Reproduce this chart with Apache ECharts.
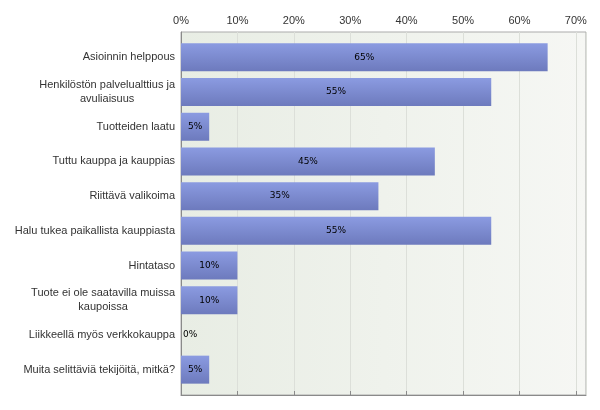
<!DOCTYPE html>
<html>
<head>
<meta charset="utf-8">
<script src="https://cdn.jsdelivr.net/npm/echarts@6/dist/echarts.min.js"></script>
<style>
  html, body { margin: 0; padding: 0; background: #fff; }
  #chart { width: 600px; height: 410px; }
</style>
</head>
<body>
<div id="chart"></div>
<script>
const categories = [
  "Asioinnin helppous",
  "Henkilöstön palvelualttius ja\navuliaisuus",
  "Tuotteiden laatu",
  "Tuttu kauppa ja kauppias",
  "Riittävä valikoima",
  "Halu tukea paikallista kauppiasta",
  "Hintataso",
  "Tuote ei ole saatavilla muissa\nkaupoissa",
  "Liikkeellä myös verkkokauppa",
  "Muita selittäviä tekijöitä, mitkä?"
];
const values = [65, 55, 5, 45, 35, 55, 10, 10, 0, 5];
const xTicks = [0, 10, 20, 30, 40, 50, 60, 70];
const xMax = 71.8;

const font = "Liberation Sans, Arial";
const chart = echarts.init(document.getElementById("chart"));

chart.setOption({
  animation: false,
  grid: [
    {
      // frame: background, split lines, top axis
      left: 181,
      right: 14,
      top: 32,
      bottom: 15,
      show: true,
      borderColor: "#ababab",
      borderWidth: 1,
      backgroundColor: new echarts.graphic.LinearGradient(0, 0, 1, 0, [
        { offset: 0, color: "#e8ede4" },
        { offset: 1, color: "#f6f7f4" }
      ])
    },
    {
      // bars, inset a little from top and bottom
      left: 181,
      right: 14,
      top: 40,
      bottom: 23
    }
  ],
  xAxis: [
    {
      gridIndex: 0,
      type: "value",
      position: "top",
      min: 0,
      max: xMax,
      interval: 10,
      axisLine: { show: true, lineStyle: { color: "#8a8a8a", width: 1 } },
      axisTick: { show: true, length: 4, lineStyle: { color: "#8a8a8a" } },
      axisLabel: {
        showMaxLabel: false,
        margin: 6,
        color: "#333",
        fontFamily: font,
        fontSize: 11,
        formatter: (v) => (xTicks.includes(v) ? v + "%" : "")
      },
      splitLine: { show: true, lineStyle: { color: "#dcdfd9", width: 1 } }
    },
    {
      gridIndex: 1,
      type: "value",
      min: 0,
      max: xMax,
      show: false
    }
  ],
  yAxis: [
    {
      gridIndex: 0,
      type: "value",
      axisLine: { show: true, lineStyle: { color: "#8a8a8a", width: 1 } },
      axisTick: { show: false },
      axisLabel: { show: false },
      splitLine: { show: false }
    },
    {
      gridIndex: 1,
      type: "category",
      inverse: true,
      data: categories,
      axisLine: { show: false },
      axisTick: { show: false },
      axisLabel: {
        margin: 6,
        color: "#333",
        fontFamily: font,
        fontSize: 11,
        lineHeight: 14,
        formatter: (v) => v.split("\n").map((s) => "{c|" + s + "}").join("\n"),
        rich: {
          c: {
            align: "center",
            color: "#333",
            fontFamily: font,
            fontSize: 11,
            lineHeight: 14
          }
        }
      }
    }
  ],
  series: [
    {
      type: "bar",
      xAxisIndex: 1,
      yAxisIndex: 1,
      data: values.map((v) =>
        v === 0
          ? { value: v, label: { position: "right", distance: 2 } }
          : v
      ),
      barWidth: 28,
      itemStyle: {
        color: new echarts.graphic.LinearGradient(0, 0, 0, 1, [
          { offset: 0, color: "#8b9be1" },
          { offset: 1, color: "#6d7abd" }
        ])
      },
      label: {
        show: true,
        position: "inside",
        color: "#000",
        fontFamily: "DejaVu Sans, Verdana",
        fontSize: 9,
        formatter: (p) => p.value + "%"
      }
    }
  ]
});
</script>
</body>
</html>
